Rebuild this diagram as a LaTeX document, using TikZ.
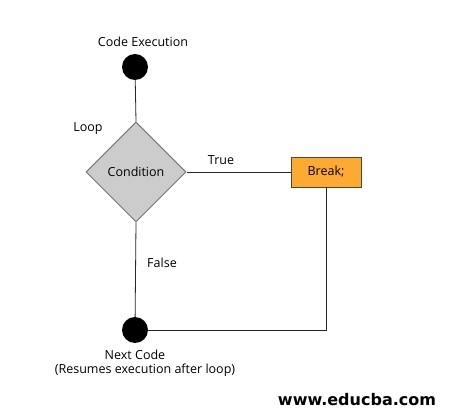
\documentclass[tikz,border=0pt]{standalone}
\usepackage{fontspec}
\setmainfont{Open Sans}
\newfontfamily\wmfont{DejaVu Sans}
\usetikzlibrary{shapes.geometric}
\definecolor{diafill}{RGB}{204,204,204}
\definecolor{diaedge}{RGB}{120,120,120}
\definecolor{brkfill}{RGB}{252,170,50}
\definecolor{brkedge}{RGB}{80,70,60}
\tikzset{
  dot/.style={circle,fill=black,inner sep=0pt,minimum size=26pt},
  cond/.style={diamond,draw=diaedge,fill=diafill,line width=1pt,minimum width=100pt,minimum height=100pt,inner sep=0pt,aspect=1,font=\fontsize{12.5}{14}\selectfont},
  brk/.style={rectangle,draw=brkedge,fill=brkfill,line width=0.8pt,minimum width=70pt,minimum height=30pt,inner sep=0pt,font=\fontsize{12.5}{14}\selectfont},
  lbl/.style={font=\fontsize{12.5}{14}\selectfont,inner sep=0pt},
  conn/.style={line width=0.8pt,draw=black!85}
}
\begin{document}
\begin{tikzpicture}[x=1pt,y=-1pt]
\useasboundingbox (0,0) rectangle (466,419);
\fill[white] (0,0) rectangle (466,419);
\node[dot] (top) at (135,67) {};
\node[cond] (c) at (136,172) {Condition};
\node[brk] (b) at (326,172) {Break;};
\node[dot] (bot) at (135,330) {};
\coordinate (corner) at (326,330);
\draw[conn] (top) -- (c.north);
\draw[conn] (c.east) -- (b.west);
\draw[conn] (c.south) -- (bot);
\draw[conn] (b.south) -- (corner) -- (bot);
\node[lbl] (t1) at (143,42) {Code Execution};
\node[lbl] (t2) at (88,129) {Loop};
\node[lbl] (t3) at (221,160) {True};
\node[lbl] (t4) at (162,263) {False};
\node[lbl,align=center] (t5) at (145,363) {\hspace*{-20pt}Next Code\\(Resumes execution after loop)};
\node[inner sep=0pt,font=\wmfont\bfseries\fontsize{16}{18}\selectfont] (wm) at (357,400) {www.educba.com};
\end{tikzpicture}
\end{document}
